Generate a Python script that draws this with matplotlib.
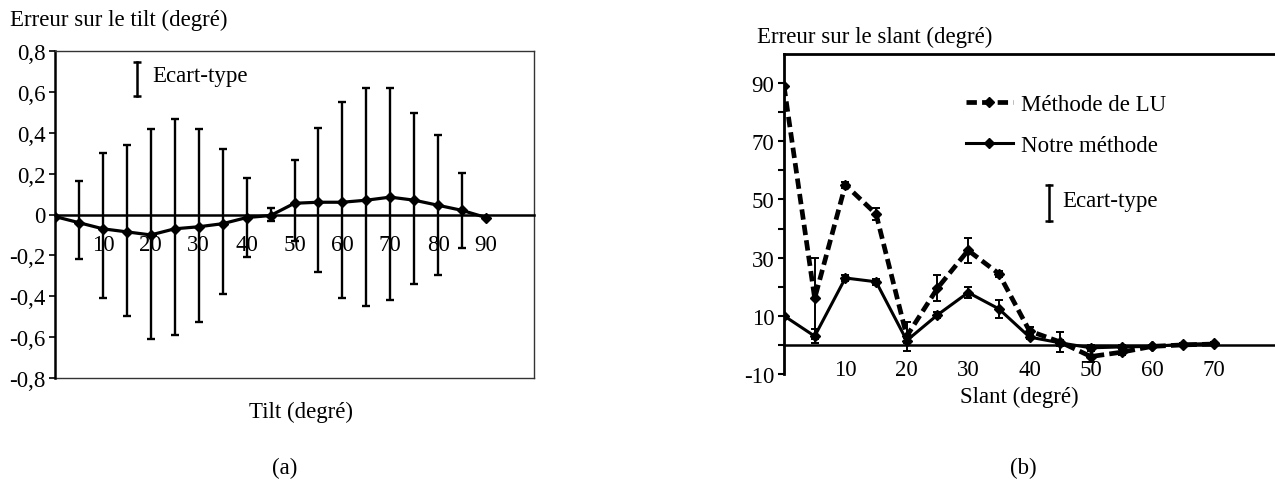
import matplotlib
matplotlib.use('Agg')
import matplotlib.pyplot as plt
import numpy as np

plt.rcParams['font.family'] = ['Liberation Serif', 'DejaVu Serif']
FS = 16.5

# ---------------- data: (a) tilt ----------------
tilt_x = [0, 5, 10, 15, 20, 25, 30, 35, 40, 45, 50, 55, 60, 65, 70, 75, 80, 85, 90]
tilt_mean = [-0.01, -0.04, -0.07, -0.085, -0.10, -0.07, -0.06, -0.045, -0.015, -0.005,
             0.055, 0.06, 0.06, 0.07, 0.085, 0.07, 0.045, 0.02, -0.015]
# error-bar ends (mean +/- std), points 5..85
tilt_bar_x = [5, 10, 15, 20, 25, 30, 35, 40, 45, 50, 55, 60, 65, 70, 75, 80, 85]
tilt_bar_high = [0.165, 0.30, 0.34, 0.42, 0.465, 0.42, 0.32, 0.18, 0.03, 0.265,
                 0.425, 0.55, 0.62, 0.62, 0.495, 0.39, 0.205]
tilt_bar_low = [-0.22, -0.41, -0.495, -0.61, -0.59, -0.525, -0.39, -0.21, -0.03, -0.13,
                -0.28, -0.41, -0.45, -0.42, -0.34, -0.295, -0.165]
tilt_xticks = [10, 20, 30, 40, 50, 60, 70, 80, 90]
tilt_yticks = [-0.8, -0.6, -0.4, -0.2, 0, 0.2, 0.4, 0.6, 0.8]
tilt_yticklabels = ['-0,8', '-0,6', '-0,4', '-0,2', '0', '0,2', '0,4', '0,6', '0,8']

# ---------------- data: (b) slant ----------------
slant_x = [0, 5, 10, 15, 20, 25, 30, 35, 40, 45, 50, 55, 60, 65, 70]
lu_mean = [89, 16, 55, 45, 3, 19.5, 32.5, 24.5, 4.8, 1, -4, -2.5, -0.5, 0, 0.3]
lu_std = [0, 14, 1, 2, 5, 4.5, 4.3, 1, 1.5, 3.5, 2, 1, 0.5, 0.5, 0.5]
notre_mean = [10, 3, 23, 21.7, 1.5, 10.3, 18, 12.4, 2.7, 0.7, -1, -0.7, -0.5, 0.2, 0.5]
notre_std = [0, 2.5, 1, 1, 1, 1, 2, 3, 0.5, 1, 1, 0.5, 0.5, 0.5, 0.5]
slant_xticks = [10, 20, 30, 40, 50, 60, 70]
slant_yticks = [-10, 10, 30, 50, 70, 90]
slant_yminor = [0, 20, 40, 60, 80]
series_labels = ['Méthode de LU', 'Notre méthode']

W, H = 1275, 481
fig = plt.figure(figsize=(W / 100, H / 100), dpi=100)

def fx(px):
    return px / W

def fy(py):
    return 1 - py / H

# ================= (a) =================
ax1 = fig.add_axes([fx(55), fy(379), fx(534) - fx(55), fy(52) - fy(379)])
ax1.set_xlim(0, 100)
ax1.set_ylim(-0.8, 0.8)

tm = np.array(tilt_mean)
bx = np.array(tilt_bar_x)
bh = np.array(tilt_bar_high)
bl = np.array(tilt_bar_low)
bm = np.interp(bx, tilt_x, tm)
ax1.errorbar(bx, bm, yerr=[bm - bl, bh - bm], fmt='none', ecolor='black',
             elinewidth=1.7, capsize=3.0, capthick=1.7, zorder=3)
ax1.plot(tilt_x, tilt_mean, color='black', lw=2.3, marker='D', markersize=5.5,
         mfc='black', mec='black', zorder=4)

for s in ['top', 'right']:
    ax1.spines[s].set_linewidth(1.0)
    ax1.spines[s].set_color('#333333')
ax1.spines['left'].set_linewidth(1.8)
ax1.spines['bottom'].set_position(('data', 0))
ax1.spines['bottom'].set_linewidth(1.8)
ax1.axhline(-0.8, color='#333333', lw=1.0, clip_on=False)

ax1.set_yticks(tilt_yticks)
ax1.set_yticklabels(tilt_yticklabels, fontsize=FS)
ax1.tick_params(axis='y', direction='out', length=4, width=1.2, pad=3)
ax1.set_xticks(tilt_xticks)
ax1.set_xticklabels([str(v) for v in tilt_xticks], fontsize=FS)
ax1.tick_params(axis='x', length=0, pad=14)

# Ecart-type legend
ax1.plot([0.171, 0.171], [0.966, 0.862], color='black', lw=1.8, marker='_',
         markersize=6, mew=1.8, transform=ax1.transAxes, clip_on=False)
ax1.text(0.2025, 0.924, 'Ecart-type', transform=ax1.transAxes, fontsize=FS,
         ha='left', va='center')

fig.text(fx(10), fy(20), 'Erreur sur le tilt (degré)', fontsize=FS, ha='left', va='center')
fig.text(fx(301), fy(412), 'Tilt (degré)', fontsize=FS, ha='center', va='center')
fig.text(fx(285), fy(468), '(a)', fontsize=FS, ha='center', va='center')

# ================= (b) =================
ax2 = fig.add_axes([fx(784), fy(375), fx(1275) - fx(784), fy(55) - fy(375)])
ax2.set_xlim(0, 80)
ax2.set_ylim(-10, 100)

ax2.errorbar(slant_x, lu_mean, yerr=lu_std, fmt='none', ecolor='black',
             elinewidth=1.4, capsize=3.0, capthick=1.4, zorder=3)
ax2.errorbar(slant_x, notre_mean, yerr=notre_std, fmt='none', ecolor='black',
             elinewidth=1.4, capsize=3.0, capthick=1.4, zorder=3)
l1, = ax2.plot(slant_x, lu_mean, color='black', lw=3.4, dashes=(2.2, 1.1),
               marker='D', markersize=5.5, mfc='black', mec='black', zorder=4,
               label=series_labels[0])
l2, = ax2.plot(slant_x, notre_mean, color='black', lw=2.2, marker='D',
               markersize=5.5, mfc='black', mec='black', zorder=4,
               label=series_labels[1])

ax2.spines['right'].set_visible(False)
ax2.spines['top'].set_linewidth(2.0)
ax2.spines['left'].set_linewidth(2.0)
ax2.spines['bottom'].set_position(('data', 0))
ax2.spines['bottom'].set_linewidth(1.8)

ax2.set_yticks(slant_yticks)
ax2.set_yticklabels([str(v) for v in slant_yticks], fontsize=FS)
ax2.set_yticks(slant_yminor, minor=True)
ax2.tick_params(axis='y', which='both', direction='out', length=4, width=1.5, pad=3)
ax2.set_xticks(slant_xticks)
ax2.set_xticklabels([str(v) for v in slant_xticks], fontsize=FS)
ax2.tick_params(axis='x', length=0, pad=10)

leg = ax2.legend(handles=[l1, l2], loc='upper left', bbox_to_anchor=(0.37, 0.875),
                 frameon=False, fontsize=FS, borderpad=0, borderaxespad=0,
                 handlelength=2.05, handletextpad=0.35, labelspacing=0.85, numpoints=1)

ax2.plot([0.539, 0.539], [0.591, 0.478], color='black', lw=1.8, marker='_',
         markersize=6, mew=1.8, transform=ax2.transAxes, clip_on=False)
ax2.text(0.567, 0.541, 'Ecart-type', transform=ax2.transAxes, fontsize=FS,
         ha='left', va='center')

fig.text(fx(757), fy(37), 'Erreur sur le slant (degré)', fontsize=FS, ha='left', va='center')
fig.text(fx(1019), fy(397), 'Slant (degré)', fontsize=FS, ha='center', va='center')
fig.text(fx(1023), fy(468), '(b)', fontsize=FS, ha='center', va='center')

fig.savefig('out.png', dpi=100)
